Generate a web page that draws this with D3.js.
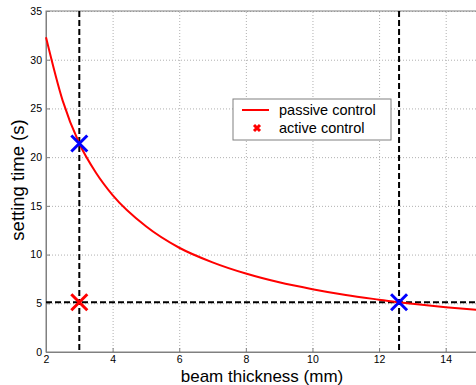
<!DOCTYPE html>
<html>
<head>
<meta charset="utf-8">
<script src="https://cdn.jsdelivr.net/npm/d3@7"></script>
<style>
  body { margin: 0; background: #fff; }
  svg text { font-family: "Liberation Sans", Arial, sans-serif; }
</style>
</head>
<body>
<div id="chart"></div>
<script>
// passive control curve
const thickness = [2, 2.5, 3, 3.5, 4, 5, 6, 7, 8, 9, 10, 11, 12, 12.6, 13, 14, 15];
const settleTime = [32.3, 25.8, 21.4, 18.4, 16.1, 12.9, 10.7, 9.2, 8.05, 7.15, 6.45, 5.85, 5.37, 5.1, 4.95, 4.6, 4.3];

const activePoints = [{ x: 3, y: 5.1 }];
const optimumPoints = [{ x: 3, y: 21.4 }, { x: 12.6, y: 5.1 }];
const guideX = [3, 12.6];
const guideY = [5.1];

const xTicks = [2, 4, 6, 8, 10, 12, 14];
const yTicks = [0, 5, 10, 15, 20, 25, 30, 35];
const legendLabels = ['passive control', 'active control'];

const W = 476, H = 385;
const margin = { top: 11, left: 46 };
const plotW = 433, plotH = 341;

const svg = d3.select('#chart').append('svg').attr('width', W).attr('height', H);

const x = d3.scaleLinear().domain([2, 15]).range([margin.left, margin.left + plotW]);
const y = d3.scaleLinear().domain([0, 35]).range([margin.top + plotH, margin.top]);

const g = svg.append('g');

// grid
g.append('g')
	.attr('transform', `translate(0,${margin.top + plotH})`)
	.call(d3.axisBottom(x).tickValues(xTicks).tickSize(-plotH).tickFormat(''))
	.call((s) => s.select('.domain').remove())
	.selectAll('line')
	.attr('stroke', '#b0b0b0')
	.attr('stroke-dasharray', '1,2');

g.append('g')
	.attr('transform', `translate(${margin.left},0)`)
	.call(d3.axisLeft(y).tickValues(yTicks).tickSize(-plotW).tickFormat(''))
	.call((s) => s.select('.domain').remove())
	.selectAll('line')
	.attr('stroke', '#b0b0b0')
	.attr('stroke-dasharray', '1,2');

// box
g.append('rect')
	.attr('x', margin.left)
	.attr('y', margin.top)
	.attr('width', plotW)
	.attr('height', plotH)
	.attr('fill', 'none')
	.attr('stroke', '#808080');

// axes with inward ticks
const xAxis = g.append('g')
	.attr('transform', `translate(0,${margin.top + plotH})`)
	.call(d3.axisBottom(x).tickValues(xTicks).tickSizeInner(-4).tickSizeOuter(0).tickPadding(4));
const yAxis = g.append('g')
	.attr('transform', `translate(${margin.left},0)`)
	.call(d3.axisLeft(y).tickValues(yTicks).tickSizeInner(-4).tickSizeOuter(0).tickPadding(4));
[xAxis, yAxis].forEach((a) => {
	a.select('.domain').attr('stroke', '#808080');
	a.selectAll('line').attr('stroke', '#808080');
	a.selectAll('text').attr('font-size', 10.5).attr('fill', '#000');
});

// guides
guideX.forEach((v) => {
	g.append('line')
		.attr('x1', x(v)).attr('x2', x(v))
		.attr('y1', y(35)).attr('y2', y(0))
		.attr('stroke', '#000').attr('stroke-width', 2).attr('stroke-dasharray', '6,3');
});
guideY.forEach((v) => {
	g.append('line')
		.attr('x1', x(2)).attr('x2', x(15))
		.attr('y1', y(v)).attr('y2', y(v))
		.attr('stroke', '#000').attr('stroke-width', 2).attr('stroke-dasharray', '6,3');
});

// curve
const line = d3.line().x((d, i) => x(thickness[i])).y((d) => y(d)).curve(d3.curveMonotoneX);
g.append('path')
	.datum(settleTime)
	.attr('d', line)
	.attr('fill', 'none')
	.attr('stroke', '#ff0000')
	.attr('stroke-width', 2);

function cross(sel, cx, cy, r, color, w) {
	sel.append('path')
		.attr('d', `M${cx - r},${cy - r}L${cx + r},${cy + r}M${cx - r},${cy + r}L${cx + r},${cy - r}`)
		.attr('stroke', color)
		.attr('stroke-width', w)
		.attr('fill', 'none');
}

activePoints.forEach((p) => cross(g, x(p.x), y(p.y), 8, '#ff0000', 3));
optimumPoints.forEach((p) => cross(g, x(p.x), y(p.y), 8, '#0000ff', 3));

// legend
const lg = svg.append('g');
lg.append('rect')
	.attr('x', 233).attr('y', 99).attr('width', 158).attr('height', 41)
	.attr('fill', '#fff').attr('stroke', '#808080');
lg.append('line')
	.attr('x1', 242).attr('x2', 269).attr('y1', 110).attr('y2', 110)
	.attr('stroke', '#ff0000').attr('stroke-width', 2);
cross(lg, 257, 128, 3, '#ff0000', 3);
legendLabels.forEach((t, i) => {
	lg.append('text')
		.attr('x', 279).attr('y', 115 + i * 18)
		.attr('font-size', 14.5)
		.text(t);
});

// axis labels
svg.append('text')
	.attr('x', 262).attr('y', 382)
	.attr('text-anchor', 'middle')
	.attr('font-size', 17)
	.text('beam thickness (mm)');
svg.append('text')
	.attr('transform', `translate(24,180) rotate(-90)`)
	.attr('text-anchor', 'middle')
	.attr('font-size', 18.5)
	.text('setting time (s)');
</script>
</body>
</html>
